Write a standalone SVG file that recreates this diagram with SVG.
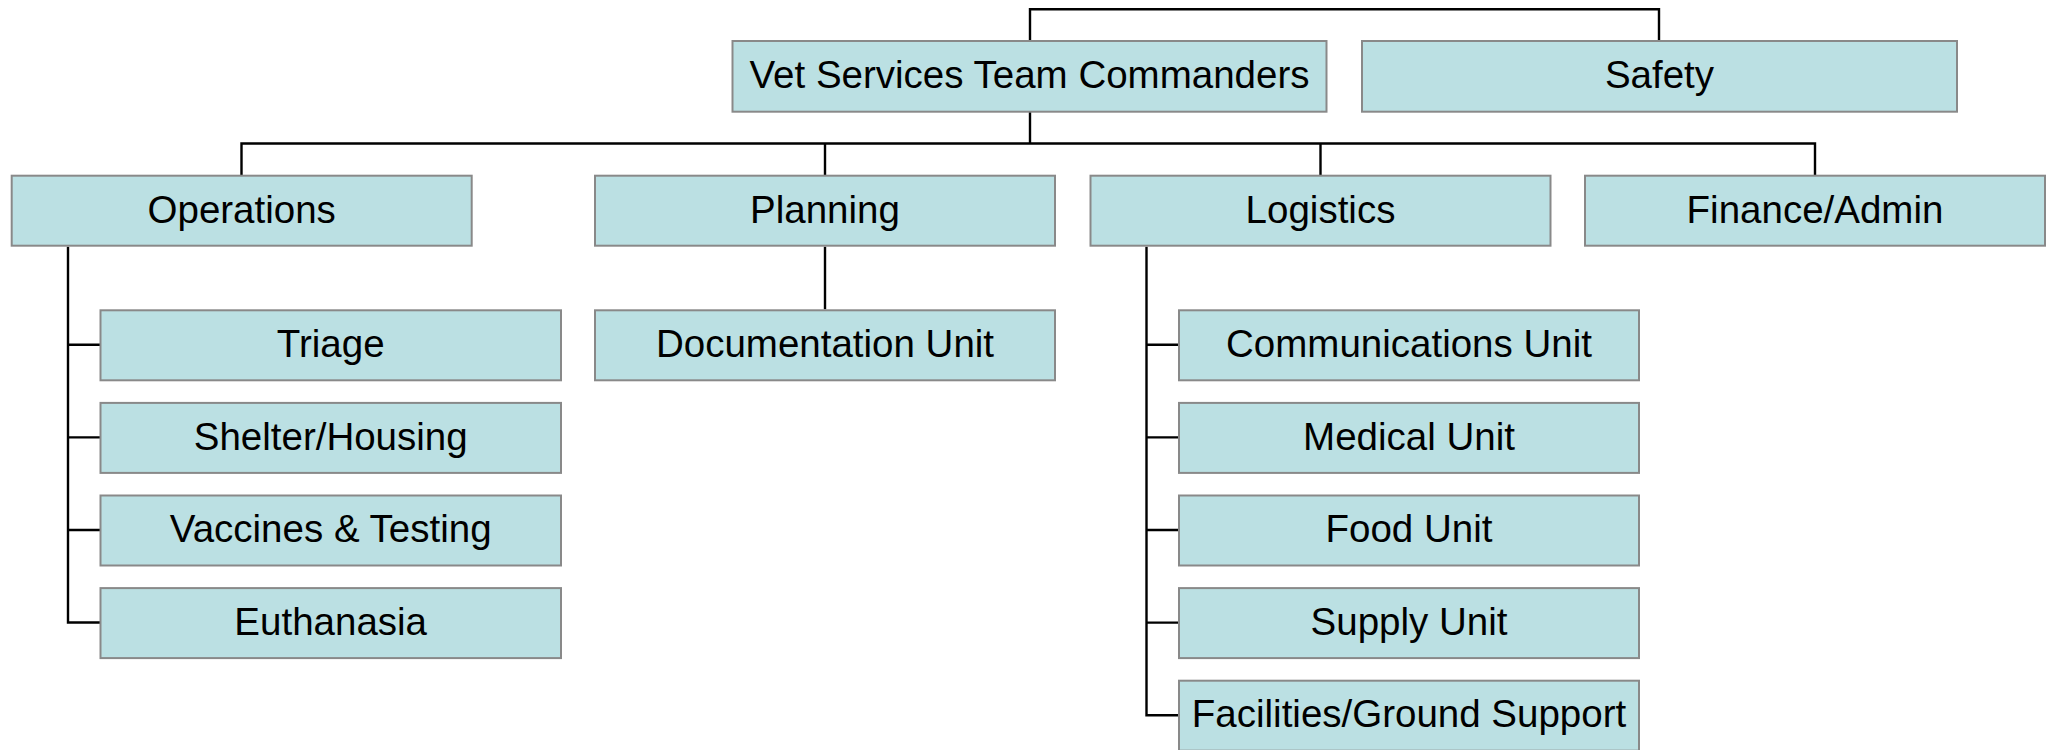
<svg xmlns="http://www.w3.org/2000/svg" width="2047" height="750" viewBox="0 0 2047 750">
<style>
.box{fill:#BBE0E3;stroke:#898989;stroke-width:2}
.lbl{font-family:"Liberation Sans",Arial,sans-serif;font-size:38.5px;fill:#000;text-anchor:middle}
.conn{fill:none;stroke:#000;stroke-width:2.4}
</style>
<rect width="2047" height="750" fill="#fff"/>
<g id="connectors" class="conn">
<path d="M1030,41 V9.2 H1659 V41"/>
<path d="M1030,112 V143.5"/>
<path d="M241.5,175.5 V143.5 H1815 V175.5"/>
<path d="M825,143.5 V175.5"/>
<path d="M1320.5,143.5 V175.5"/>
<path d="M68,246.7 V622.5 H100.5"/>
<path d="M68,344.8 H100.5 M68,437.4 H100.5 M68,530 H100.5"/>
<path d="M825,246.7 V309.3"/>
<path d="M1146.5,246.7 V715.2 H1179"/>
<path d="M1146.5,344.8 H1179 M1146.5,437.4 H1179 M1146.5,530 H1179 M1146.5,622.6 H1179"/>
</g>
<g id="vstc"><rect class="box" x="732.5" y="41" width="594" height="70.7"/><text class="lbl" x="1029.5" y="88.4">Vet Services Team Commanders</text></g>
<g id="safety"><rect class="box" x="1362" y="41" width="595" height="70.7"/><text class="lbl" x="1659.5" y="88.4">Safety</text></g>
<g id="operations"><rect class="box" x="11.7" y="175.7" width="460" height="70"/><text class="lbl" x="241.7" y="222.7">Operations</text></g>
<g id="planning"><rect class="box" x="595" y="175.7" width="460" height="70"/><text class="lbl" x="825" y="222.7">Planning</text></g>
<g id="logistics"><rect class="box" x="1090.5" y="175.7" width="460" height="70"/><text class="lbl" x="1320.5" y="222.7">Logistics</text></g>
<g id="finance"><rect class="box" x="1585" y="175.7" width="460" height="70"/><text class="lbl" x="1815" y="222.7">Finance/Admin</text></g>
<g id="triage"><rect class="box" x="100.5" y="310.3" width="460.5" height="70"/><text class="lbl" x="330.7" y="357">Triage</text></g>
<g id="shelter"><rect class="box" x="100.5" y="402.9" width="460.5" height="70"/><text class="lbl" x="330.7" y="449.6">Shelter/Housing</text></g>
<g id="vaccines"><rect class="box" x="100.5" y="495.5" width="460.5" height="70"/><text class="lbl" x="330.7" y="542.2">Vaccines &amp; Testing</text></g>
<g id="euthanasia"><rect class="box" x="100.5" y="588.1" width="460.5" height="70"/><text class="lbl" x="330.7" y="634.8">Euthanasia</text></g>
<g id="documentation"><rect class="box" x="595" y="310.3" width="460" height="70"/><text class="lbl" x="825" y="357">Documentation Unit</text></g>
<g id="communications"><rect class="box" x="1179" y="310.3" width="460" height="70"/><text class="lbl" x="1409" y="357">Communications Unit</text></g>
<g id="medical"><rect class="box" x="1179" y="402.9" width="460" height="70"/><text class="lbl" x="1409" y="449.6">Medical Unit</text></g>
<g id="food"><rect class="box" x="1179" y="495.5" width="460" height="70"/><text class="lbl" x="1409" y="542.2">Food Unit</text></g>
<g id="supply"><rect class="box" x="1179" y="588.1" width="460" height="70"/><text class="lbl" x="1409" y="634.8">Supply Unit</text></g>
<g id="facilities"><rect class="box" x="1179" y="680.7" width="460" height="70"/><text class="lbl" x="1409" y="727.4">Facilities/Ground Support</text></g>
</svg>
